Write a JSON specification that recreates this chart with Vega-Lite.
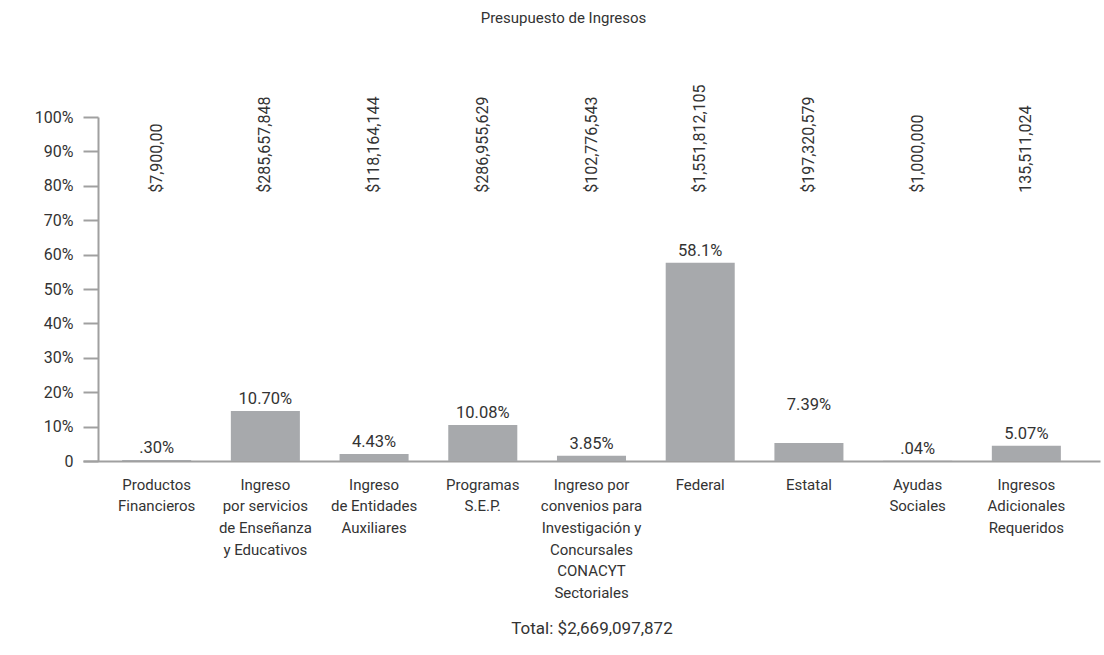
{
  "$schema": "https://vega.github.io/schema/vega-lite/v6.json",
  "width": 1017,
  "height": 344,
  "autosize": {"type": "none"},
  "padding": {"left": 83, "top": 117, "right": 4, "bottom": 194},
  "title": {
    "text": "Presupuesto de Ingresos",
    "font": "Roboto",
    "fontSize": 15,
    "fontWeight": "normal",
    "color": "#333333",
    "anchor": "middle",
    "frame": "group",
    "dx": -28,
    "offset": 58
  },
  "config": {
    "view": {"stroke": null},
    "font": "Roboto",
    "text": {"font": "Roboto", "color": "#333333"},
    "axisY": {
      "title": null,
      "grid": false,
      "offset": -15,
      "tickSize": 15,
      "tickWidth": 2,
      "tickColor": "#a0a0a0",
      "domainColor": "#a0a0a0",
      "domainWidth": 2,
      "labelPadding": 10,
      "labelFont": "Roboto",
      "labelFontSize": 16,
      "labelColor": "#333333",
      "labelOverlap": false
    }
  },
  "data": {
    "values": [
      {"categoria": "Productos|Financieros", "valor": 0.3, "pos_etiqueta": 0.3, "etiqueta": ".30%", "monto": "$7,900,00"},
      {"categoria": "Ingreso|por servicios|de Enseñanza|y Educativos", "valor": 14.5, "pos_etiqueta": 14.5, "etiqueta": "10.70%", "monto": "$285,657,848"},
      {"categoria": "Ingreso|de Entidades|Auxiliares", "valor": 2.0, "pos_etiqueta": 2.0, "etiqueta": "4.43%", "monto": "$118,164,144"},
      {"categoria": "Programas|S.E.P.", "valor": 10.5, "pos_etiqueta": 10.5, "etiqueta": "10.08%", "monto": "$286,955,629"},
      {"categoria": "Ingreso por|convenios para|Investigación y|Concursales|CONACYT|Sectoriales", "valor": 1.5, "pos_etiqueta": 1.5, "etiqueta": "3.85%", "monto": "$102,776,543"},
      {"categoria": "Federal", "valor": 57.6, "pos_etiqueta": 57.6, "etiqueta": "58.1%", "monto": "$1,551,812,105"},
      {"categoria": "Estatal", "valor": 5.2, "pos_etiqueta": 12.8, "etiqueta": "7.39%", "monto": "$197,320,579"},
      {"categoria": "Ayudas|Sociales", "valor": 0.04, "pos_etiqueta": 0.04, "etiqueta": ".04%", "monto": "$1,000,000"},
      {"categoria": "Ingresos|Adicionales|Requeridos", "valor": 4.4, "pos_etiqueta": 4.4, "etiqueta": "5.07%", "monto": "135,511,024"}
    ]
  },
  "encoding": {
    "x": {
      "field": "categoria",
      "type": "nominal",
      "sort": null,
      "scale": {"paddingInner": 0.365, "paddingOuter": 0.36},
      "axis": {
        "title": "Total: $2,669,097,872",
        "titleFont": "Roboto",
        "titleFontSize": 17,
        "titleFontWeight": "normal",
        "titleColor": "#333333",
        "titlePadding": 20,
        "labelAngle": 0,
        "ticks": false,
        "domainColor": "#a0a0a0",
        "domainWidth": 2,
        "labelExpr": "split(datum.label, '|')",
        "labelPadding": 16,
        "labelLineHeight": 21.7,
        "labelFont": "Roboto",
        "labelFontSize": 15,
        "labelColor": "#333333",
        "labelLimit": 0
      }
    }
  },
  "layer": [
    {
      "mark": {"type": "bar", "color": "#a7a9ac"},
      "encoding": {
        "y": {
          "field": "valor",
          "type": "quantitative",
          "scale": {"domain": [0, 100], "nice": false},
          "axis": {
            "values": [0, 10, 20, 30, 40, 50, 60, 70, 80, 90, 100],
            "labelExpr": "datum.value == 0 ? '0' : datum.value + '%'"
          }
        }
      }
    },
    {
      "mark": {"type": "text", "baseline": "bottom", "dy": -4, "fontSize": 16.5},
      "encoding": {
        "y": {
          "field": "pos_etiqueta",
          "type": "quantitative",
          "axis": {
            "values": [0, 10, 20, 30, 40, 50, 60, 70, 80, 90, 100],
            "labelExpr": "datum.value == 0 ? '0' : datum.value + '%'"
          }
        },
        "text": {"field": "etiqueta"}
      }
    },
    {
      "mark": {"type": "text", "angle": 270, "align": "left", "baseline": "middle", "fontSize": 16, "dx": 5},
      "encoding": {
        "y": {
          "datum": 76.5,
          "axis": {
            "values": [0, 10, 20, 30, 40, 50, 60, 70, 80, 90, 100],
            "labelExpr": "datum.value == 0 ? '0' : datum.value + '%'"
          }
        },
        "text": {"field": "monto"}
      }
    }
  ]
}
